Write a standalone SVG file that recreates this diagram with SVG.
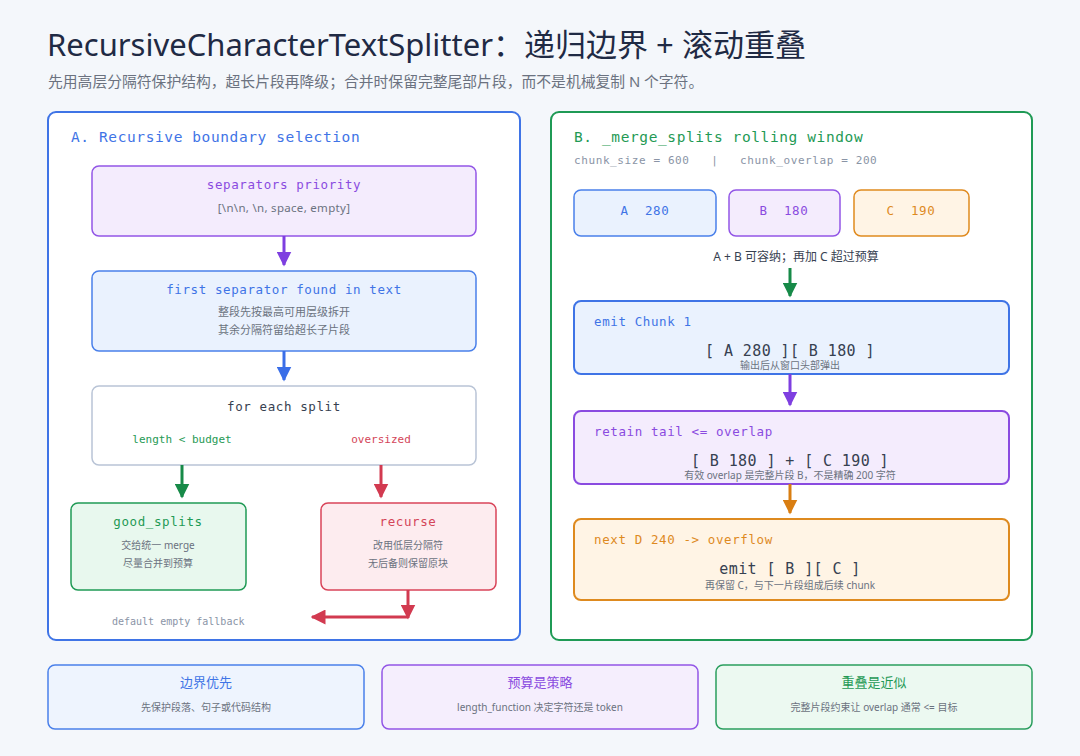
<svg xmlns="http://www.w3.org/2000/svg" width="1080" height="756" viewBox="0 0 1080 756">
<defs>
<style>
.sans{font-family:"Noto Sans","Noto Sans CJK SC",sans-serif;}
.mono{font-family:"DejaVu Sans Mono","Liberation Mono","Noto Sans CJK SC",monospace;}
.title{font-size:31px;fill:#1f2a44;}
.subtitle{font-size:14.8px;fill:#6b7280;}
.ptitle{font-size:14.5px;letter-spacing:0.6px;}
.ntitle{font-size:12.5px;letter-spacing:0.6px;}
.note{font-size:11px;fill:#6b7280;}
.small{font-size:10px;fill:#6b7280;}
.big{font-size:15px;fill:#374151;letter-spacing:0.4px;}
.c{text-anchor:middle;}
.blue{fill:#3f74e6;}
.purple{fill:#8a4be0;}
.green{fill:#1f9a55;}
.red{fill:#d44559;}
.orange{fill:#de8a1f;}
.dark{fill:#374151;}
.gray{fill:#8a94a6;}
.arrow{fill:none;stroke-width:3;}
</style>
<marker id="hPurple" viewBox="0 0 10 10" refX="9" refY="5" markerWidth="5" markerHeight="5" orient="auto" markerUnits="strokeWidth"><path d="M0,0 L10,5 L0,10 z" fill="#7e3fe0"/></marker>
<marker id="hBlue" viewBox="0 0 10 10" refX="9" refY="5" markerWidth="5" markerHeight="5" orient="auto" markerUnits="strokeWidth"><path d="M0,0 L10,5 L0,10 z" fill="#3a6ee8"/></marker>
<marker id="hGreen" viewBox="0 0 10 10" refX="9" refY="5" markerWidth="5" markerHeight="5" orient="auto" markerUnits="strokeWidth"><path d="M0,0 L10,5 L0,10 z" fill="#178a48"/></marker>
<marker id="hRed" viewBox="0 0 10 10" refX="9" refY="5" markerWidth="5" markerHeight="5" orient="auto" markerUnits="strokeWidth"><path d="M0,0 L10,5 L0,10 z" fill="#d23a50"/></marker>
<marker id="hOrange" viewBox="0 0 10 10" refX="9" refY="5" markerWidth="5" markerHeight="5" orient="auto" markerUnits="strokeWidth"><path d="M0,0 L10,5 L0,10 z" fill="#d97e12"/></marker>
</defs>
<rect x="0" y="0" width="1080" height="756" fill="#f4f7fb"/>
<g id="header">
<text class="sans title" x="47" y="56">RecursiveCharacterTextSplitter：递归边界 + 滚动重叠</text>
<text class="sans subtitle" x="48" y="87">先用高层分隔符保护结构，超长片段再降级；合并时保留完整尾部片段，而不是机械复制 N 个字符。</text>
</g>
<g id="panelA">
<rect x="48" y="112" width="472" height="528" rx="8" fill="#ffffff" stroke="#3f74e6" stroke-width="2"/>
<text class="mono ptitle blue" x="71" y="142">A. Recursive boundary selection</text>
</g>
<g id="panelB">
<rect x="551" y="112" width="481" height="528" rx="8" fill="#ffffff" stroke="#1f9a55" stroke-width="2"/>
<text class="mono ptitle green" x="574" y="142">B. _merge_splits rolling window</text>
<text class="mono note gray" x="574" y="164" style="letter-spacing:0.6px" xml:space="preserve">chunk_size = 600   |   chunk_overlap = 200</text>
</g>
<g id="separators">
<rect x="92" y="166" width="384" height="70" rx="7" fill="#f4ecfd" stroke="#9256e6" stroke-width="1.5"/>
<text class="mono ntitle purple c" x="284" y="189">separators priority</text>
<text class="sans note c" x="284" y="212" style="font-size:11.5px;letter-spacing:0.3px">[\n\n,  \n,  space,  empty]</text>
</g>
<g id="firstsep">
<rect x="92" y="271" width="384" height="80" rx="7" fill="#eaf2fe" stroke="#4a80ea" stroke-width="1.5"/>
<text class="mono ntitle blue c" x="284" y="294">first separator found in text</text>
<text class="sans note c" x="284" y="316">整段先按最高可用层级拆开</text>
<text class="sans note c" x="284" y="334">其余分隔符留给超长子片段</text>
</g>
<g id="foreach">
<rect x="92" y="386" width="384" height="79" rx="7" fill="#ffffff" stroke="#b9c4d6" stroke-width="1.5"/>
<text class="mono ntitle dark c" x="284" y="411">for each split</text>
<text class="mono note green c" x="182" y="443">length &lt; budget</text>
<text class="mono note red c" x="381" y="443">oversized</text>
</g>
<g id="goodsplits">
<rect x="71" y="503" width="175" height="87" rx="7" fill="#e8f8ee" stroke="#1f9a55" stroke-width="1.5"/>
<text class="mono ntitle green c" x="158" y="526">good_splits</text>
<text class="sans small c" x="158" y="549">交给统一 merge</text>
<text class="sans small c" x="158" y="567">尽量合并到预算</text>
</g>
<g id="recurse">
<rect x="321" y="503" width="175" height="87" rx="7" fill="#fdecef" stroke="#d94459" stroke-width="1.5"/>
<text class="mono ntitle red c" x="408" y="526">recurse</text>
<text class="sans small c" x="408" y="549">改用低层分隔符</text>
<text class="sans small c" x="408" y="567">无后备则保留原块</text>
</g>
<text class="mono small gray" x="112" y="625">default empty fallback</text>
<g id="blockA">
<rect x="574" y="190" width="142" height="46" rx="7" fill="#eaf2fe" stroke="#4a80ea" stroke-width="1.5"/>
<text class="mono ntitle blue c" x="645" y="215" xml:space="preserve">A  280</text>
</g>
<g id="blockB">
<rect x="729" y="190" width="111" height="46" rx="7" fill="#f4ecfd" stroke="#9256e6" stroke-width="1.5"/>
<text class="mono ntitle purple c" x="784" y="215" xml:space="preserve">B  180</text>
</g>
<g id="blockC">
<rect x="854" y="190" width="115" height="46" rx="7" fill="#fff4e5" stroke="#e08a1e" stroke-width="1.5"/>
<text class="mono ntitle orange c" x="911" y="215" xml:space="preserve">C  190</text>
</g>
<text class="sans c" x="796" y="261" style="font-size:12px;fill:#374151">A + B 可容纳；再加 C 超过预算</text>
<g id="emit1">
<rect x="574" y="301" width="435" height="73" rx="7" fill="#eaf2fe" stroke="#3f74e6" stroke-width="2"/>
<text class="mono ntitle blue" x="594" y="326">emit Chunk 1</text>
<text class="mono big c" x="790" y="356">[ A 280 ][ B 180 ]</text>
<text class="sans small c" x="790" y="369">输出后从窗口头部弹出</text>
</g>
<g id="retain">
<rect x="574" y="411" width="435" height="73" rx="7" fill="#f4ecfd" stroke="#8a4be0" stroke-width="2"/>
<text class="mono ntitle purple" x="594" y="436">retain tail &lt;= overlap</text>
<text class="mono big c" x="790" y="466">[ B 180 ] + [ C 190 ]</text>
<text class="sans small c" x="790" y="479">有效 overlap 是完整片段 B，不是精确 200 字符</text>
</g>
<g id="nextD">
<rect x="574" y="519" width="435" height="81" rx="7" fill="#fff4e5" stroke="#de8a1f" stroke-width="2"/>
<text class="mono ntitle orange" x="594" y="544">next D 240 -&gt; overflow</text>
<text class="mono big c" x="790" y="574">emit [ B ][ C ]</text>
<text class="sans small c" x="790" y="589">再保留 C，与下一片段组成后续 chunk</text>
</g>
<g id="card1">
<rect x="48" y="665" width="316" height="64" rx="7" fill="#eef4fe" stroke="#4a80ea" stroke-width="1.5"/>
<text class="sans c blue" x="206" y="687" style="font-size:13px">边界优先</text>
<text class="sans small c" x="206" y="711">先保护段落、句子或代码结构</text>
</g>
<g id="card2">
<rect x="382" y="665" width="316" height="64" rx="7" fill="#f5eefd" stroke="#9256e6" stroke-width="1.5"/>
<text class="sans c purple" x="540" y="687" style="font-size:13px">预算是策略</text>
<text class="sans small c" x="540" y="711">length_function 决定字符还是 token</text>
</g>
<g id="card3">
<rect x="716" y="665" width="316" height="64" rx="7" fill="#ecf9f1" stroke="#2a9e5e" stroke-width="1.5"/>
<text class="sans c green" x="874" y="687" style="font-size:13px">重叠是近似</text>
<text class="sans small c" x="874" y="711">完整片段约束让 overlap 通常 &lt;= 目标</text>
</g>
<g id="connectors">
<path class="arrow" d="M284,236 L284,265" stroke="#7e3fe0" marker-end="url(#hPurple)"/>
<path class="arrow" d="M284,351 L284,380" stroke="#3a6ee8" marker-end="url(#hBlue)"/>
<path class="arrow" d="M182,465 L182,497" stroke="#178a48" marker-end="url(#hGreen)"/>
<path class="arrow" d="M381,465 L381,497" stroke="#d23a50" marker-end="url(#hRed)"/>
<path class="arrow" d="M408,590 L408,618" stroke="#d23a50" stroke-width="2" marker-end="url(#hRed)"/>
<path class="arrow" d="M408,617 L312,617" stroke="#d23a50" marker-end="url(#hRed)"/>
<path class="arrow" d="M790,268 L790,296" stroke="#178a48" marker-end="url(#hGreen)"/>
<path class="arrow" d="M790,374 L790,405" stroke="#7e3fe0" marker-end="url(#hPurple)"/>
<path class="arrow" d="M790,484 L790,513" stroke="#d97e12" marker-end="url(#hOrange)"/>
</g>
</svg>
